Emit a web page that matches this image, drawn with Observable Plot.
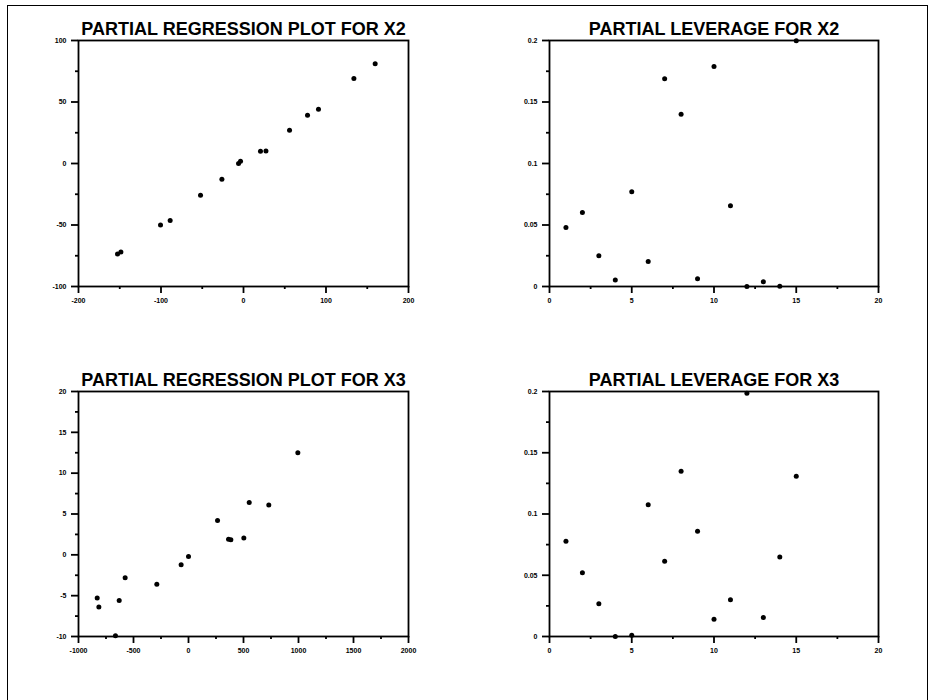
<!DOCTYPE html>
<html>
<head>
<meta charset="utf-8">
<script src="https://cdn.jsdelivr.net/npm/d3@7"></script>
<script src="https://cdn.jsdelivr.net/npm/@observablehq/plot@0.6"></script>
<style>
  html, body { margin: 0; padding: 0; background: #fff; }
  #page { position: relative; width: 935px; height: 700px; overflow: hidden; }
  #border { position: absolute; left: 7px; top: 5px; width: 921px; height: 700px;
            border: 1.5px solid #000; box-sizing: border-box; }
  .panel { position: absolute; }
</style>
</head>
<body>
<div id="page"><div id="border"></div></div>
<script>
// Partial regression of Y on X2 (residuals of X2 vs residuals of Y)
const regX2Resid = [-152.7, -148.6, -100.6, -88.9, -52.1, -26.2, -6.0, -3.6, 20.6, 27.2, 55.8, 77.6, 90.9, 133.8, 159.6];
const regX2Y     = [-73.6, -72.0, -50.0, -46.3, -25.9, -12.9, -0.1, 1.8, 9.9, 10.2, 27.0, 39.2, 44.1, 69.1, 81.0];

// Partial leverage for X2, by observation number
const obsIndex = [1, 2, 3, 4, 5, 6, 7, 8, 9, 10, 11, 12, 13, 14, 15];
const levX2    = [0.048, 0.0602, 0.025, 0.0052, 0.077, 0.0204, 0.169, 0.140, 0.0062, 0.1788, 0.0657, 0.0, 0.0038, 0.0003, 0.1997];

// Partial regression of Y on X3
const regX3Resid = [-830, -815, -664, -630, -576, -288, -67, 0, 264, 364, 385, 503, 552, 730, 994];
const regX3Y     = [-5.3, -6.4, -9.9, -5.6, -2.8, -3.6, -1.2, -0.2, 4.2, 1.9, 1.85, 2.05, 6.4, 6.1, 12.5];

// Partial leverage for X3, by observation number
const levX3 = [0.0778, 0.052, 0.0267, 0.0, 0.0011, 0.1075, 0.0615, 0.135, 0.086, 0.0141, 0.0299, 0.1986, 0.0155, 0.0648, 0.1309];

// Axis tick sets
const regX2XTicks = [-200, -100, 0, 100, 200], regX2XMinor = [-150, -50, 50, 150];
const regX2YTicks = [-100, -50, 0, 50, 100],   regX2YMinor = [-75, -25, 25, 75];
const levXTicks   = [0, 5, 10, 15, 20],        levXMinor   = [2.5, 7.5, 12.5, 17.5];
const levYTicks   = [0, 0.05, 0.1, 0.15, 0.2], levYMinor   = [0.025, 0.075, 0.125, 0.175];
const regX3XTicks = [-1000, -500, 0, 500, 1000, 1500, 2000], regX3XMinor = [-750, -250, 250, 750, 1250, 1750];
const regX3YTicks = [-10, -5, 0, 5, 10, 15, 20], regX3YMinor = [-7.5, -2.5, 2.5, 7.5, 12.5, 17.5];

const titles = [
  "PARTIAL REGRESSION PLOT FOR X2",
  "PARTIAL LEVERAGE FOR X2",
  "PARTIAL REGRESSION PLOT FOR X3",
  "PARTIAL LEVERAGE FOR X3"
];

const FONT = "'Liberation Sans', Arial, Helvetica, sans-serif";
const fmt = d => String(d);

function panel({title, xs, ys, xDomain, yDomain, xTicks, xMinor, yTicks, yMinor, left, top, width, height, margins}) {
  const pts = xs.map((x, i) => ({x, y: ys[i]}));
  const chart = Plot.plot({
    width, height,
    marginLeft: margins[0], marginRight: margins[1], marginTop: margins[2], marginBottom: margins[3],
    x: {domain: xDomain, label: null},
    y: {domain: yDomain, label: null},
    style: {fontFamily: FONT, background: "transparent", overflow: "visible", color: "#000"},
    marks: [
      Plot.axisX(xTicks, {tickSize: 7, tickPadding: 5, tickFormat: fmt, fontSize: 7, fontWeight: "bold", strokeWidth: 1.8, label: null}),
      Plot.axisX(xMinor, {tickSize: 3, tickFormat: () => "", strokeWidth: 1.8, label: null}),
      Plot.axisY(yTicks, {tickSize: 7, tickPadding: 5, tickFormat: fmt, fontSize: 7, fontWeight: "bold", strokeWidth: 1.8, label: null}),
      Plot.axisY(yMinor, {tickSize: 3, tickFormat: () => "", strokeWidth: 1.8, label: null}),
      Plot.frame({stroke: "#000", strokeWidth: 1.8}),
      Plot.dot(pts, {x: "x", y: "y", r: 2.5, fill: "#000", stroke: "none"}),
      Plot.text([title], {text: d => d, frameAnchor: "top", lineAnchor: "bottom", dy: -6, fontSize: 18, fontWeight: "bold", fill: "#000"})
    ]
  });
  chart.classList.add("panel");
  chart.style.left = left + "px";
  chart.style.top = top + "px";
  document.getElementById("page").appendChild(chart);
}

panel({title: titles[0], xs: regX2Resid, ys: regX2Y, xDomain: [-200, 200], yDomain: [-100, 100],
  xTicks: regX2XTicks, xMinor: regX2XMinor, yTicks: regX2YTicks, yMinor: regX2YMinor,
  left: 0, top: 0, width: 470, height: 320, margins: [78, 62, 40, 34]});

panel({title: titles[1], xs: obsIndex, ys: levX2, xDomain: [0, 20], yDomain: [0, 0.2],
  xTicks: levXTicks, xMinor: levXMinor, yTicks: levYTicks, yMinor: levYMinor,
  left: 470, top: 0, width: 465, height: 320, margins: [79, 57, 40, 34]});

panel({title: titles[2], xs: regX3Resid, ys: regX3Y, xDomain: [-1000, 2000], yDomain: [-10, 20],
  xTicks: regX3XTicks, xMinor: regX3XMinor, yTicks: regX3YTicks, yMinor: regX3YMinor,
  left: 0, top: 350, width: 470, height: 320, margins: [78, 62, 41, 34]});

panel({title: titles[3], xs: obsIndex, ys: levX3, xDomain: [0, 20], yDomain: [0, 0.2],
  xTicks: levXTicks, xMinor: levXMinor, yTicks: levYTicks, yMinor: levYMinor,
  left: 470, top: 350, width: 465, height: 320, margins: [79, 57, 41, 34]});
</script>
</body>
</html>
